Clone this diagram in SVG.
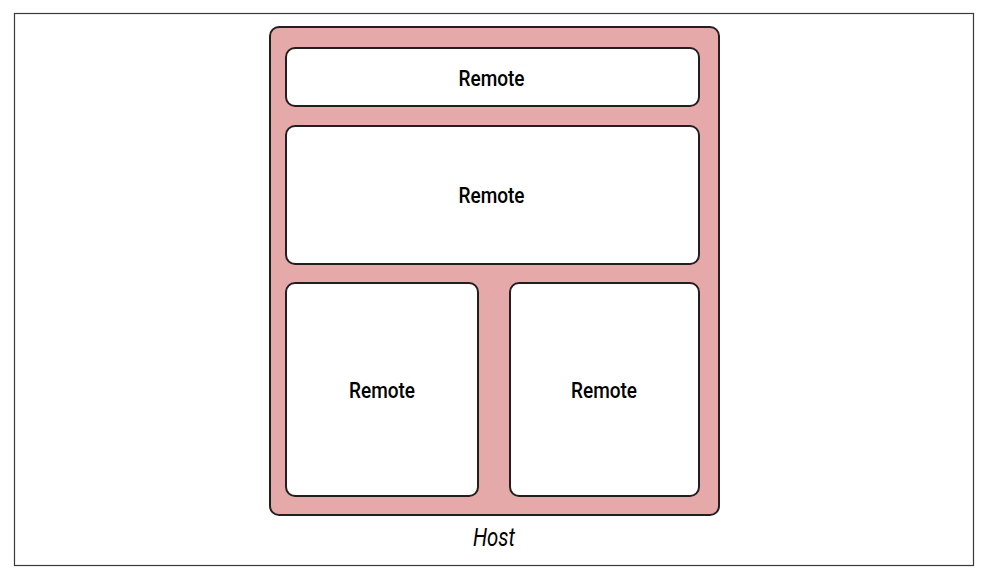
<svg xmlns="http://www.w3.org/2000/svg" width="988" height="579" viewBox="0 0 988 579">
<style>
.remote{fill:#ffffff;stroke:#231f20;stroke-width:2}
.lbl{font-family:Roboto,"Liberation Sans",sans-serif;font-size:22px;font-weight:500;fill:#000;text-anchor:middle}
</style>
<rect x="0" y="0" width="988" height="579" fill="#ffffff"/>
<rect x="14.5" y="13.5" width="959" height="552" fill="none" stroke="#3a3a3a" stroke-width="1.2"/>
<g id="host">
<rect x="270" y="27" width="449" height="488" rx="9" fill="#e6a9aa" stroke="#231f20" stroke-width="2"/>
<text x="494" y="546" font-family="Roboto,'Liberation Sans',sans-serif" font-style="italic" font-size="25" text-anchor="middle" textLength="42" lengthAdjust="spacingAndGlyphs" fill="#000">Host</text>
</g>
<g id="remote1">
<rect class="remote" x="286" y="48" width="413" height="58" rx="9"/>
<text class="lbl" x="491.5" y="86" textLength="66" lengthAdjust="spacingAndGlyphs">Remote</text>
</g>
<g id="remote2">
<rect class="remote" x="286" y="126" width="413" height="138" rx="9"/>
<text class="lbl" x="491.5" y="203" textLength="66" lengthAdjust="spacingAndGlyphs">Remote</text>
</g>
<g id="remote3">
<rect class="remote" x="286" y="283" width="192" height="213" rx="9"/>
<text class="lbl" x="382" y="398" textLength="66" lengthAdjust="spacingAndGlyphs">Remote</text>
</g>
<g id="remote4">
<rect class="remote" x="510" y="283" width="189" height="213" rx="9"/>
<text class="lbl" x="604" y="398" textLength="66" lengthAdjust="spacingAndGlyphs">Remote</text>
</g>
<g id="connectors"></g>
</svg>
